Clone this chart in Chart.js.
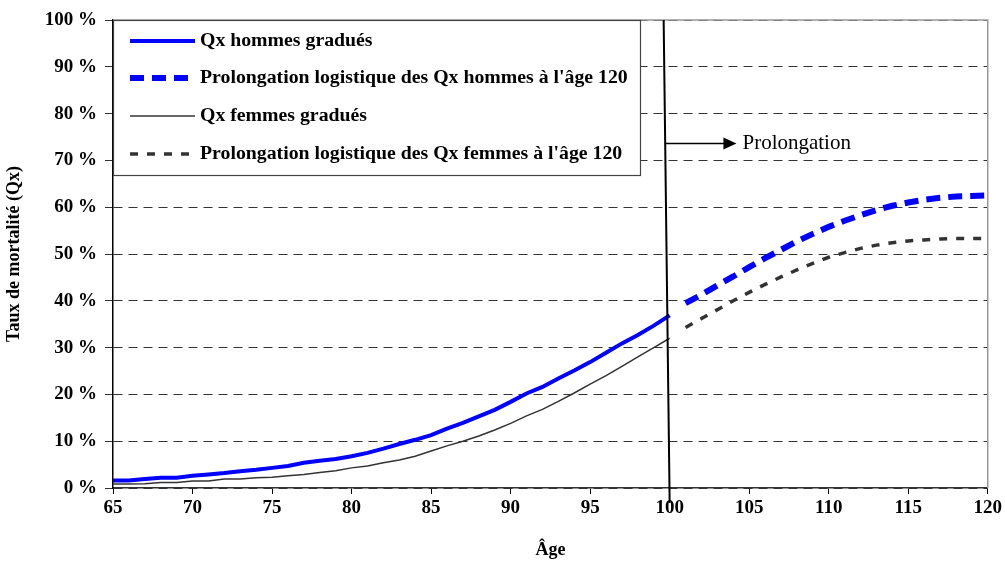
<!DOCTYPE html>
<html>
<head>
<meta charset="utf-8">
<script src="https://cdn.jsdelivr.net/npm/chart.js@4/dist/chart.umd.min.js"></script>
<style>
  html, body { margin: 0; padding: 0; background: #fff; }
  #wrap { width: 1005px; height: 565px; }
</style>
</head>
<body>
<div id="wrap"><canvas id="myChart"></canvas></div>
<script>
const agesGrad = [65, 66, 67, 68, 69, 70, 71, 72, 73, 74, 75, 76, 77, 78, 79, 80, 81, 82,
  83, 84, 85, 86, 87, 88, 89, 90, 91, 92, 93, 94, 95, 96, 97, 98, 99, 100];
const agesProl = [101, 102, 103, 104, 105, 106, 107, 108, 109, 110,
  111, 112, 113, 114, 115, 116, 117, 118, 119, 120];

const hommesGrad = [1.6, 1.6, 1.9, 2.2, 2.2, 2.6, 2.9, 3.2, 3.6, 3.9, 4.3, 4.7, 5.4, 5.8, 6.2, 6.8, 7.5, 8.4,
  9.4, 10.3, 11.3, 12.7, 13.9, 15.3, 16.7, 18.4, 20.2, 21.6, 23.4, 25.1, 26.9, 28.9, 30.9, 32.7, 34.7, 36.9];
const femmesGrad = [0.85, 0.85, 0.9, 1.2, 1.2, 1.5, 1.5, 1.9, 1.9, 2.2, 2.3, 2.6, 2.9, 3.3, 3.7, 4.3, 4.7, 5.4,
  6.0, 6.8, 7.9, 9.0, 10.0, 11.1, 12.4, 13.8, 15.4, 16.8, 18.5, 20.3, 22.2, 24.0, 26.0, 28.0, 30.0, 32.0];
const hommesProl = [39.5, 41.3, 43.3, 45.2, 47.2, 49.1, 50.9, 52.7, 54.3, 55.8,
  57.1, 58.3, 59.4, 60.3, 61.0, 61.6, 62.0, 62.3, 62.4, 62.5];
const femmesProl = [34.3, 36.2, 38.1, 40.0, 41.8, 43.5, 45.1, 46.6, 48.0, 49.3,
  50.3, 51.2, 51.9, 52.4, 52.8, 53.0, 53.2, 53.3, 53.3, 53.3];

const xTicks = [65, 70, 75, 80, 85, 90, 95, 100, 105, 110, 115, 120];
const yTicks = [0, 10, 20, 30, 40, 50, 60, 70, 80, 90, 100];

const labels = [
  'Qx hommes gradués',
  "Prolongation logistique des Qx hommes à l'âge 120",
  'Qx femmes gradués',
  "Prolongation logistique des Qx femmes à l'âge 120",
];

const pts = (ages, vals) => ages.map((a, i) => ({ x: a, y: vals[i] }));

const serif = '"Liberation Serif", "Times New Roman", serif';

// plot border, vertical line at 100 with arrow, legend box
const extras = {
  id: 'extras',
  afterDraw(chart) {
    const ctx = chart.ctx;
    const a = chart.chartArea;
    const xs = chart.scales.x;
    ctx.save();

    // grey frame on top / right
    ctx.strokeStyle = '#999';
    ctx.lineWidth = 1.5;
    ctx.beginPath();
    ctx.moveTo(a.left, a.top);
    ctx.lineTo(a.right, a.top);
    ctx.lineTo(a.right, a.bottom);
    ctx.stroke();

    // vertical line at age 100
    const x100 = xs.getPixelForValue(100);
    ctx.strokeStyle = '#000';
    ctx.lineWidth = 2;
    ctx.beginPath();
    ctx.moveTo(x100 - 6, a.top);
    ctx.lineTo(x100, a.bottom + 15);
    ctx.stroke();

    // arrow + text
    const ya = chart.scales.y.getPixelForValue(73.6);
    const xa0 = x100 - 5;
    const xa1 = xs.getPixelForValue(104.2);
    ctx.lineWidth = 1.5;
    ctx.beginPath();
    ctx.moveTo(xa0, ya);
    ctx.lineTo(xa1 - 10, ya);
    ctx.stroke();
    ctx.fillStyle = '#000';
    ctx.beginPath();
    ctx.moveTo(xa1, ya);
    ctx.lineTo(xa1 - 13, ya - 6);
    ctx.lineTo(xa1 - 13, ya + 6);
    ctx.closePath();
    ctx.fill();
    ctx.font = '21px ' + serif;
    ctx.textBaseline = 'middle';
    ctx.textAlign = 'left';
    ctx.fillText('Prolongation', xa1 + 6, ya);

    // legend box
    const bx = a.left, by = a.top, bw = 527, bh = 155;
    ctx.fillStyle = '#fff';
    ctx.fillRect(bx, by, bw, bh);
    ctx.strokeStyle = '#444';
    ctx.lineWidth = 1.2;
    ctx.strokeRect(bx + 0.5, by + 0.5, bw, bh);

    const rows = [41, 78, 116, 154];
    chart.data.datasets.forEach((ds, i) => {
      const y = rows[i];
      ctx.strokeStyle = ds.borderColor;
      ctx.lineWidth = ds.borderWidth;
      ctx.setLineDash(ds.borderDash || []);
      ctx.beginPath();
      ctx.moveTo(130, y);
      ctx.lineTo(195, y);
      ctx.stroke();
      ctx.setLineDash([]);
      ctx.fillStyle = '#000';
      ctx.font = 'bold 19.8px ' + serif;
      ctx.fillText(ds.label, 200, y);
    });
    ctx.restore();
  }
};

const data = {
  datasets: [{
    label: labels[0],
    data: pts(agesGrad, hommesGrad),
    borderColor: '#0000ff',
    borderWidth: 4,
  }, {
    label: labels[1],
    data: pts(agesProl, hommesProl),
    borderColor: '#0000ff',
    borderWidth: 6,
    borderDash: [14, 8],
  }, {
    label: labels[2],
    data: pts(agesGrad, femmesGrad),
    borderColor: '#333333',
    borderWidth: 1.5,
  }, {
    label: labels[3],
    data: pts(agesProl, femmesProl),
    borderColor: '#333333',
    borderWidth: 3.5,
    borderDash: [8, 9],
  }]
};

const config = {
  type: 'line',
  data,
  plugins: [extras],
  options: {
    responsive: false,
    animation: false,
    layout: { padding: { left: 0, right: 17, top: 20, bottom: 0 } },
    elements: { point: { radius: 0 }, line: { tension: 0 } },
    plugins: { legend: { display: false }, tooltip: { enabled: false } },
    scales: {
      x: {
        type: 'linear',
        min: 65,
        max: 120,
        afterBuildTicks: s => { s.ticks = xTicks.map(v => ({ value: v })); },
        afterFit: s => { s.height = 77; },
        grid: { drawOnChartArea: false, drawTicks: true, tickLength: 6, color: '#000' },
        border: { color: '#333', width: 1.5 },
        ticks: { color: '#000', font: { family: serif, size: 19, weight: 'bold' }, padding: 3, maxRotation: 0 },
        title: { display: true, text: 'Âge', color: '#000', font: { family: serif, size: 18, weight: 'bold' }, padding: { top: 8 } }
      },
      y: {
        min: 0,
        max: 100,
        afterBuildTicks: s => { s.ticks = yTicks.map(v => ({ value: v })); },
        afterFit: s => { s.width = 113; },
        grid: { color: '#333', tickLength: 8, tickColor: '#333', tickBorderDash: [] },
        border: { color: '#000', width: 1.5, dash: [9, 6] },
        ticks: { color: '#000', font: { family: serif, size: 19, weight: 'bold' }, padding: 8, callback: v => v + ' %' },
        title: { display: true, text: 'Taux de mortalité (Qx)', color: '#000', font: { family: serif, size: 18, weight: 'bold' }, padding: { bottom: 1 } }
      }
    }
  }
};

const cv = document.getElementById('myChart');
cv.width = 1005;
cv.height = 565;
new Chart(cv, config);
</script>
</body>
</html>
